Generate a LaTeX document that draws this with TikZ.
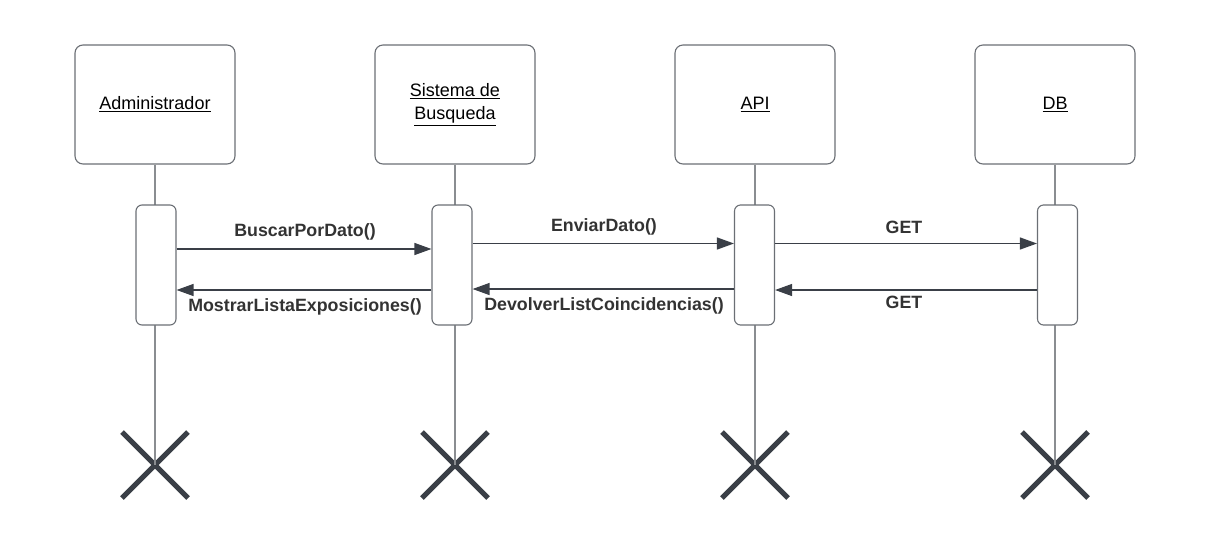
\documentclass[tikz,border=0pt]{standalone}
\usepackage{fontspec}
\setmainfont{Liberation Sans}
\usetikzlibrary{arrows.meta,shapes.misc}
\definecolor{boxline}{HTML}{6B6F75}
\definecolor{lifeline}{HTML}{8A8D91}
\definecolor{ink}{HTML}{3A3F47}
\definecolor{labeltext}{HTML}{333333}
\begin{document}
\begin{tikzpicture}[x=1pt,y=-1pt,
  header/.style={draw=boxline,line width=1.1pt,rounded corners=8pt,fill=white,
    minimum width=160pt,minimum height=119pt,inner sep=0pt,align=center,
    font=\fontsize{18}{22.5}\selectfont,text=black},
  activation/.style={draw=boxline,line width=1.1pt,rounded corners=6pt,fill=white,
    minimum width=40pt,minimum height=120pt,inner sep=0pt},
  life/.style={draw=lifeline,line width=1.2pt},
  destroy/.style={cross out,draw=ink,line width=5pt,minimum size=61pt,inner sep=0pt},
  msg/.style={draw=ink,line width=1.2pt,-{Triangle[length=17pt,width=12pt]}},
  msglabel/.style={font=\bfseries\fontsize{17.8}{20}\selectfont,text=labeltext,inner sep=0pt}
]
\useasboundingbox (0,0) rectangle (1210,550);

% participants
\node[header] (hAdmin) at (155,104.5) {\underline{Administrador}};
\node[header] (hSys)   at (455,104.5) {\underline{Sistema de}\\[1pt]\underline{Busqueda}};
\node[header] (hApi)   at (755,104.5) {\underline{API}};
\node[header] (hDb)    at (1055,104.5) {\underline{DB}};

% end-of-life markers
\node[destroy] (xAdmin) at (155,465) {};
\node[destroy] (xSys)   at (455,465) {};
\node[destroy] (xApi)   at (755,465) {};
\node[destroy] (xDb)    at (1055,465) {};

% lifelines
\draw[life] (hAdmin.south) -- (xAdmin.center);
\draw[life] (hSys.south)   -- (xSys.center);
\draw[life] (hApi.south)   -- (xApi.center);
\draw[life] (hDb.south)    -- (xDb.center);

% activation bars
\node[activation] (aAdmin) at (156,265) {};
\node[activation] (aSys)   at (452,265) {};
\node[activation] (aApi)   at (754.5,265) {};
\node[activation] (aDb)    at (1057.5,265) {};

% messages
\draw[msg] (aAdmin.east |- 0,249) -- (aSys.west |- 0,249);
\draw[msg] (aSys.west |- 0,290) -- (aAdmin.east |- 0,290);
\draw[msg] (aSys.east |- 0,243.5) -- (aApi.west |- 0,243.5);
\draw[msg] (aApi.west |- 0,289) -- (aSys.east |- 0,289);
\draw[msg] (aApi.east |- 0,243.5) -- (aDb.west |- 0,243.5);
\draw[msg] (aDb.west |- 0,290) -- (aApi.east |- 0,290);

% message labels
\node[msglabel] (lBuscar)  at (305,232) {BuscarPorDato()};
\node[msglabel] (lMostrar) at (305,307) {MostrarListaExposiciones()};
\node[msglabel] (lEnviar)  at (604,227) {EnviarDato()};
\node[msglabel] (lDevolver) at (604,306) {DevolverListCoincidencias()};
\node[msglabel] (lGet1)    at (904,227) {GET};
\node[msglabel] (lGet2)    at (904,302) {GET};
\end{tikzpicture}
\end{document}
